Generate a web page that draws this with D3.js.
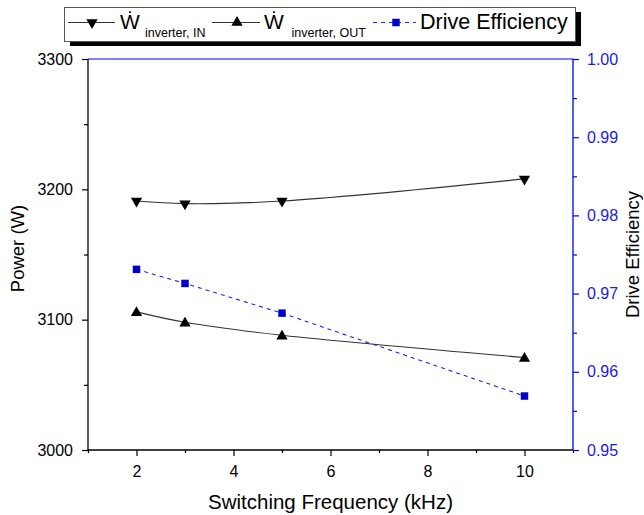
<!DOCTYPE html>
<html>
<head>
<meta charset="utf-8">
<script src="https://cdn.jsdelivr.net/npm/d3@7"></script>
<style>
  body { margin: 0; background: #fff; }
  svg { display: block; font-family: "Liberation Sans", Arial, sans-serif; }
</style>
</head>
<body>
<svg id="chart" width="644" height="515"></svg>
<script>
// ---- data ----
const frequency = [2, 3, 5, 10];
const powerIn = [3191, 3189, 3191, 3208];
const powerOut = [3106, 3098, 3088, 3071];
const efficiency = [0.9731, 0.9713, 0.9675, 0.9569];

const xTicks = [2, 4, 6, 8, 10];
const xMinorTicks = [1, 3, 5, 7, 9, 11];
const powerTicks = [3000, 3100, 3200, 3300];
const powerMinorTicks = [3050, 3150, 3250];
const effTicks = [0.95, 0.96, 0.97, 0.98, 0.99, 1.00];
const effMinorTicks = [0.955, 0.965, 0.975, 0.985, 0.995];

const seriesNames = ["inverter, IN", "inverter, OUT", "Drive Efficiency"];
const xTitle = "Switching Frequency (kHz)";
const yTitle = "Power (W)";
const y2Title = "Drive Efficiency";

// ---- layout ----
const svg = d3.select("#chart");
const L = 88, R = 573, T = 59, B = 450;
const BLUE = "#0000ff";
const MBLUE = "#0000cc";
const FONT = "Liberation Sans, Arial, sans-serif";

const x = d3.scaleLinear().domain([1, 11]).range([L, R]);
const y = d3.scaleLinear().domain([3000, 3300]).range([B, T]);
const y2 = d3.scaleLinear().domain([0.95, 1.00]).range([B, T]);

// top frame line (blue)
svg.append("line").attr("x1", L).attr("x2", R).attr("y1", T).attr("y2", T)
  .attr("stroke", BLUE).attr("stroke-width", 1.2);

function styleAxis(g, color) {
  g.attr("font-family", FONT).attr("font-size", 16);
  g.select(".domain").attr("stroke", color).attr("stroke-width", 1.3);
  g.selectAll(".tick line").attr("stroke", color).attr("stroke-width", 1.2);
  g.selectAll(".tick text").attr("fill", color).attr("font-size", 16).attr("font-family", FONT);
}

// X axis
const gx = svg.append("g").attr("transform", `translate(0,${B})`)
  .call(d3.axisBottom(x).tickValues(xTicks).tickSize(6).tickPadding(10).tickFormat(d3.format("d")));
styleAxis(gx, "#000");
gx.select(".domain").attr("d", `M${L},0H${R}`);
const gxm = svg.append("g").attr("transform", `translate(0,${B})`)
  .call(d3.axisBottom(x).tickValues(xMinorTicks).tickSize(3).tickFormat(""));
styleAxis(gxm, "#000");
gxm.select(".domain").remove();

// Left Y axis
const gy = svg.append("g").attr("transform", `translate(${L},0)`)
  .call(d3.axisLeft(y).tickValues(powerTicks).tickSize(6).tickPadding(9).tickFormat(d3.format("d")));
styleAxis(gy, "#000");
gy.select(".domain").attr("d", `M0,${B}V${T}`);
const gym = svg.append("g").attr("transform", `translate(${L},0)`)
  .call(d3.axisLeft(y).tickValues(powerMinorTicks).tickSize(4).tickFormat(""));
styleAxis(gym, "#000");
gym.select(".domain").remove();

// Right Y axis
const gy2 = svg.append("g").attr("transform", `translate(${R},0)`)
  .call(d3.axisRight(y2).tickValues(effTicks).tickSize(6).tickPadding(8).tickFormat(d3.format(".2f")));
styleAxis(gy2, BLUE);
gy2.select(".domain").attr("d", `M0,${B}V${T}`);
gy2.selectAll(".tick text").attr("fill", "#1a1ae6");
const gy2m = svg.append("g").attr("transform", `translate(${R},0)`)
  .call(d3.axisRight(y2).tickValues(effMinorTicks).tickSize(4).tickFormat(""));
styleAxis(gy2m, BLUE);
gy2m.select(".domain").remove();

// Axis titles
svg.append("text").attr("x", (L + R) / 2).attr("y", 509).attr("text-anchor", "middle")
  .attr("font-size", 20.5).text(xTitle);
svg.append("text").attr("transform", `translate(24,${(T + B) / 2 - 6}) rotate(-90)`)
  .attr("text-anchor", "middle").attr("font-size", 18.5).text(yTitle);
svg.append("text").attr("transform", `translate(639,${(T + B) / 2}) rotate(-90)`)
  .attr("text-anchor", "middle").attr("font-size", 18.5).text(y2Title);

// ---- series ----
const tri = d3.symbol().type(d3.symbolTriangle).size(55);
const square = d3.symbol().type(d3.symbolSquare).size(56);

const curve = d3.curveCatmullRom.alpha(0.5);
const linePow = d3.line().curve(curve).x((d, i) => x(frequency[i])).y(d => y(d));
const lineEff = d3.line().x((d, i) => x(frequency[i])).y(d => y2(d));

svg.append("path").attr("d", linePow(powerIn)).attr("fill", "none")
  .attr("stroke", "#333").attr("stroke-width", 1.1);
svg.append("path").attr("d", linePow(powerOut)).attr("fill", "none")
  .attr("stroke", "#333").attr("stroke-width", 1.1);
svg.append("path").attr("d", lineEff(efficiency)).attr("fill", "none")
  .attr("stroke", "#2222ee").attr("stroke-width", 1.1).attr("stroke-dasharray", "4,4");

svg.selectAll(".mIn").data(powerIn).enter().append("path")
  .attr("d", tri)
  .attr("transform", (d, i) => `translate(${x(frequency[i])},${y(d)}) rotate(180)`)
  .attr("fill", "#000");
svg.selectAll(".mOut").data(powerOut).enter().append("path")
  .attr("d", tri)
  .attr("transform", (d, i) => `translate(${x(frequency[i])},${y(d) + 1})`)
  .attr("fill", "#000");
svg.selectAll(".mEff").data(efficiency).enter().append("path")
  .attr("d", square)
  .attr("transform", (d, i) => `translate(${x(frequency[i])},${y2(d)})`)
  .attr("fill", MBLUE);

// ---- legend ----
const lg = svg.append("g");
lg.append("rect").attr("x", 70).attr("y", 12).attr("width", 511).attr("height", 34).attr("fill", "#000");
lg.append("rect").attr("x", 64.5).attr("y", 7.5).attr("width", 511).attr("height", 34)
  .attr("fill", "#fff").attr("stroke", "#555").attr("stroke-width", 1);

const ly = 22.5;
// item 1
lg.append("line").attr("x1", 68).attr("x2", 115).attr("y1", ly).attr("y2", ly).attr("stroke", "#333").attr("stroke-width", 1.1);
lg.append("path").attr("d", tri).attr("transform", `translate(92,${ly}) rotate(180)`).attr("fill", "#000");
lg.append("text").attr("x", 120).attr("y", 29).attr("font-size", 21).text("\u1E86");
lg.append("text").attr("x", 145).attr("y", 37).attr("font-size", 12.5).text(seriesNames[0]);
// item 2
lg.append("line").attr("x1", 212).attr("x2", 260).attr("y1", ly).attr("y2", ly).attr("stroke", "#333").attr("stroke-width", 1.1);
lg.append("path").attr("d", tri).attr("transform", `translate(237,${ly})`).attr("fill", "#000");
lg.append("text").attr("x", 264).attr("y", 29).attr("font-size", 21).text("\u1E86");
lg.append("text").attr("x", 291.5).attr("y", 37).attr("font-size", 12.5).text(seriesNames[1]);
// item 3
lg.append("line").attr("x1", 373).attr("x2", 416).attr("y1", ly).attr("y2", ly).attr("stroke", "#2222ee")
  .attr("stroke-width", 1.1).attr("stroke-dasharray", "4,4");
lg.append("path").attr("d", square).attr("transform", `translate(396,${ly})`).attr("fill", MBLUE);
lg.append("text").attr("x", 420).attr("y", 29).attr("font-size", 21.5).text(seriesNames[2]);
</script>
</body>
</html>
